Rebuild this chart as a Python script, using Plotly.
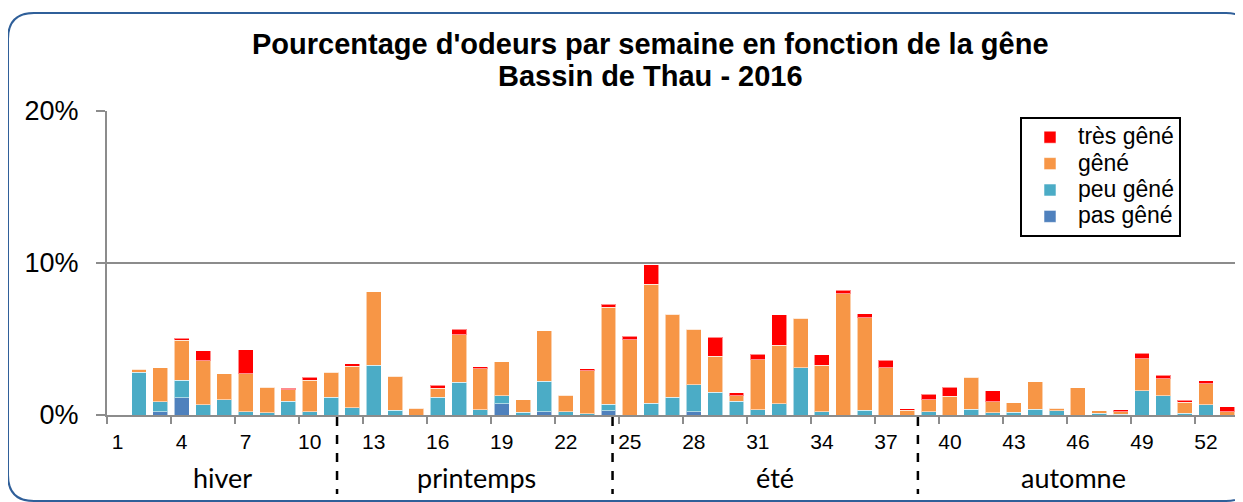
import plotly.graph_objects as go

weeks = list(range(1, 54))
pas_gene = [0, 0, 0.2, 1.14, 0, 0, 0, 0, 0, 0, 0,
            0, 0, 0, 0, 0, 0, 0, 0.74, 0, 0.22, 0, 0, 0.28,
            0, 0, 0, 0.2, 0, 0, 0, 0, 0, 0, 0, 0, 0, 0,
            0, 0, 0, 0, 0, 0, 0, 0, 0, 0, 0, 0, 0, 0, 0]
peu_gene = [0, 2.8, 0.66, 1.16, 0.66, 1.01, 0.2, 0.15, 0.92, 0.2, 1.18,
            0.48, 3.27, 0.31, 0, 1.18, 2.17, 0.35, 0.53, 0.18, 2.0, 0.22, 0.09, 0.42,
            0, 0.77, 1.16, 1.8, 1.49, 0.92, 0.35, 0.74, 3.11, 0.22, 0, 0.31, 0, 0,
            0.22, 0, 0.39, 0.15, 0.18, 0.39, 0.28, 0, 0.13, 0.05, 1.6, 1.27, 0.13, 0.68, 0]
gene = [0, 0.22, 2.24, 2.63, 2.91, 1.69, 2.5, 1.67, 0.74, 2.1, 1.64,
        2.72, 4.84, 2.24, 0.46, 0.59, 3.11, 2.68, 2.22, 0.83, 3.31, 1.08, 2.83, 6.38,
        4.95, 7.83, 5.48, 3.64, 2.39, 0.35, 3.27, 3.86, 3.27, 3.05, 7.98, 6.09, 3.11, 0.31,
        0.77, 1.23, 2.1, 0.72, 0.61, 1.8, 0.18, 1.78, 0.15, 0.17, 2.1, 1.12, 0.7, 1.36, 0.22]
tres_gene = [0, 0, 0, 0.11, 0.66, 0, 1.58, 0, 0.11, 0.2, 0,
             0.17, 0, 0, 0, 0.2, 0.37, 0.13, 0, 0, 0, 0, 0.11, 0.2,
             0.24, 1.29, 0, 0, 1.23, 0.18, 0.39, 1.99, 0, 0.7, 0.22, 0.26, 0.49, 0.09,
             0.39, 0.61, 0, 0.72, 0, 0, 0, 0, 0, 0.13, 0.37, 0.24, 0.15, 0.2, 0.31]

tick_weeks = [1, 4, 7, 10, 13, 16, 19, 22, 25, 28, 31, 34, 37, 40, 43, 46, 49, 52]
y_ticks = [0, 10, 20]
y_labels = ["0%", "10%", "20%"]
seasons = ["hiver", "printemps", "été", "automne"]
season_centers = [5.9, 17.8, 31.8, 45.8]
season_breaks = [11.28, 24.19, 38.5]
title_lines = ["Pourcentage d'odeurs par semaine en fonction de la gêne", "Bassin de Thau - 2016"]

series = [
    ("pas gêné", pas_gene, "#4F81BD"),
    ("peu gêné", peu_gene, "#4BACC6"),
    ("gêné", gene, "#F79646"),
    ("très gêné", tres_gene, "#FF0000"),
]

# page has an 8px body margin: work in reference pixels, shift by D
D = 8
W, H = 1243 - D, 502 - D
L, R, T, B = 107 - D, 5, 111 - D, 87
PW, PH = W - L - R, H - T - B

def px(x):
    return (x - D - L) / PW

def py(y):
    return (H - B - (y - D)) / PH

fig = go.Figure()
for name, vals, col in series:
    fig.add_trace(go.Bar(
        x=weeks, y=vals, name=f'<span style="font-size:23px">{name}</span>',
        marker=dict(color=col, line=dict(color="rgba(255,255,255,0.55)", width=1)),
    ))

# Rounded frame (reference pixel coords)
x0, y0, x1, y1, r = 8, 13, 1252, 501, 26
path = (f"M {px(x0 + r)},{py(y0)} L {px(x1 - r)},{py(y0)} "
        f"Q {px(x1)},{py(y0)} {px(x1)},{py(y0 + r)} "
        f"L {px(x1)},{py(y1 - r)} Q {px(x1)},{py(y1)} {px(x1 - r)},{py(y1)} "
        f"L {px(x0 + r)},{py(y1)} Q {px(x0)},{py(y1)} {px(x0)},{py(y1 - r)} "
        f"L {px(x0)},{py(y0 + r)} Q {px(x0)},{py(y0)} {px(x0 + r)},{py(y0)} Z")
shapes = [dict(type="path", xref="paper", yref="paper", path=path,
               line=dict(color="#2F5F99", width=2), layer="below")]
for b in season_breaks:
    shapes.append(dict(type="line", xref="x", yref="paper", x0=b, x1=b,
                       y0=py(417), y1=py(494),
                       line=dict(color="black", width=2.5, dash="dash")))

annotations = []
for s, c in zip(seasons, season_centers):
    annotations.append(dict(x=c, y=py(477), xref="x", yref="paper", text=s,
                            showarrow=False, yanchor="middle",
                            font=dict(family="Lato, Liberation Sans, Arial", size=27, color="black")))
for t, yy in zip(title_lines, [44, 76]):
    annotations.append(dict(x=px(650), y=py(yy), xref="paper", yref="paper",
                            text=f"<b>{t}</b>", showarrow=False,
                            xanchor="center", yanchor="middle",
                            font=dict(family="Liberation Sans, Arial", size=29, color="black")))

fig.update_layout(
    width=W, height=H,
    margin=dict(l=L, r=R, t=T, b=B),
    paper_bgcolor="white", plot_bgcolor="white",
    barmode="stack", bargap=0.3,
    font=dict(family="Liberation Sans, Arial", color="black"),
    showlegend=True,
    legend=dict(x=px(1020), y=py(117), xanchor="left", yanchor="top",
                traceorder="reversed", bgcolor="white", bordercolor="black", borderwidth=2,
                font=dict(family="Liberation Sans, Arial", size=18, color="black"),
                itemwidth=46, tracegroupgap=0),
    shapes=shapes, annotations=annotations,
)

fig.update_xaxes(
    range=[0.5, 53.5], tickmode="array", tickvals=tick_weeks,
    ticktext=[str(w) for w in tick_weeks], ticks="", ticklabelstandoff=7,
    tickfont=dict(family="Liberation Sans, Arial", size=21, color="black"),
    showline=True, linecolor="#8C8C8C", linewidth=2, showgrid=False, zeroline=False,
    minor=dict(tickmode="linear", tick0=0.5, dtick=3, ticks="outside", ticklen=7,
               tickcolor="#8C8C8C", tickwidth=2, showgrid=False),
)
fig.update_yaxes(
    range=[0, 20], tickmode="array", tickvals=y_ticks, ticktext=y_labels,
    tickfont=dict(family="Liberation Sans, Arial", size=27, color="black"),
    ticks="outside", ticklen=9, tickcolor="#8C8C8C", tickwidth=2, ticklabelstandoff=12,
    showline=True, linecolor="#8C8C8C", linewidth=2,
    showgrid=True, gridcolor="#8C8C8C", gridwidth=2, zeroline=False,
)

fig.write_html("out.html")
